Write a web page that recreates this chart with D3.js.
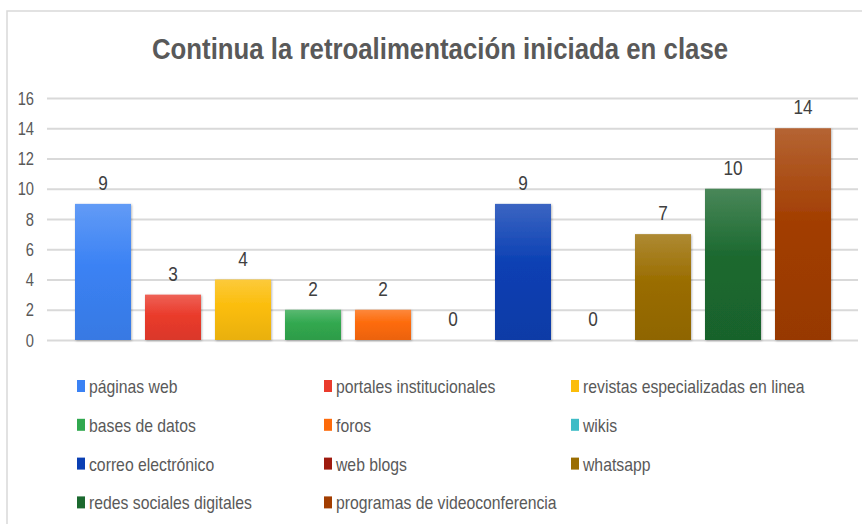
<!DOCTYPE html>
<html>
<head>
<meta charset="utf-8">
<script src="https://cdn.jsdelivr.net/npm/d3@7"></script>
<style>
  html, body { margin: 0; padding: 0; background: #fff; }
  svg { display: block; font-family: "Liberation Sans", Arial, sans-serif; }
</style>
</head>
<body>
<svg id="chart" width="862" height="524"></svg>
<script>
const title = "Continua la retroalimentación iniciada en clase";
const categories = ["páginas web", "portales institucionales", "revistas especializadas en linea",
  "bases de datos", "foros", "wikis", "correo electrónico", "web blogs", "whatsapp",
  "redes sociales digitales", "programas de videoconferencia"];
const values = [9, 3, 4, 2, 2, 0, 9, 0, 7, 10, 14];
const colors = ["#3b82f4", "#ea3b2c", "#fbbd0a", "#31a84f", "#fd6a0a", "#3fbcc6",
  "#0a3fb3", "#9e1a0e", "#9a6d00", "#1b692f", "#a23d00"];
const yTicks = [0, 2, 4, 6, 8, 10, 12, 14, 16];

const SX = 0.84; // horizontal text compression seen in the reference
const svg = d3.select("#chart");
const defs = svg.append("defs");

// border
svg.append("path").attr("d", "M7,530 L7,11 L870,11")
  .attr("fill", "none").attr("stroke", "#d9d9d9").attr("stroke-width", 1.5);

// title
svg.append("text").attr("transform", `translate(440,59) scale(0.86,1)`)
  .attr("text-anchor", "middle").attr("font-size", 30).attr("font-weight", "bold")
  .attr("fill", "#595959").text(title);

const x = d3.scaleBand().domain(categories).range([68, 838]).paddingInner(0.2).paddingOuter(0.1);
const y = d3.scaleLinear().domain([0, 16]).range([340, 98]);

// gridlines + y labels
const axis = d3.axisLeft(y).tickValues(yTicks).tickSize(-(858 - 47)).tickFormat(d3.format("d"));
const gAxis = svg.append("g").attr("transform", "translate(47,0)").call(axis);
gAxis.select(".domain").remove();
gAxis.selectAll(".tick line").attr("stroke", "#d9d9d9").attr("stroke-width", 1.8);
gAxis.selectAll(".tick text").attr("x", 0).attr("dy", "0.35em")
  .attr("transform", `translate(-13,0) scale(${SX},1)`)
  .attr("font-size", 17.5).attr("fill", "#595959").attr("font-family", "Liberation Sans, Arial, sans-serif");

// shadow filter
const f = defs.append("filter").attr("id", "shadow").attr("x", "-20%").attr("y", "-20%")
  .attr("width", "140%").attr("height", "140%");
f.append("feDropShadow").attr("dx", 0.8).attr("dy", 0.8).attr("stdDeviation", 1.2)
  .attr("flood-color", "#000").attr("flood-opacity", 0.3);

// gradients
colors.forEach((c, i) => {
  const g = defs.append("linearGradient").attr("id", "grad" + i)
    .attr("x1", 0).attr("y1", 0).attr("x2", 0).attr("y2", 1);
  g.append("stop").attr("offset", "0%").attr("stop-color", d3.interpolateRgb(c, "#ffffff")(0.2));
  g.append("stop").attr("offset", "45%").attr("stop-color", c);
  g.append("stop").attr("offset", "100%").attr("stop-color", d3.interpolateRgb(c, "#000000")(0.07));
});

const data = categories.map((c, i) => ({ c, v: values[i], i }));

svg.append("g").selectAll("rect").data(data.filter(d => d.v > 0)).join("rect")
  .attr("x", d => x(d.c)).attr("width", x.bandwidth())
  .attr("y", d => y(d.v)).attr("height", d => y(0) - y(d.v))
  .attr("fill", d => `url(#grad${d.i})`).attr("filter", "url(#shadow)");

svg.append("g").selectAll("text").data(data).join("text")
  .attr("transform", d => `translate(${x(d.c) + x.bandwidth() / 2},${y(d.v) - 14}) scale(${SX},1)`)
  .attr("text-anchor", "middle").attr("font-size", 20.5).attr("fill", "#404040")
  .text(d => d.v);

// legend
const legend = svg.append("g");
const items = legend.selectAll("g").data(data).join("g")
  .attr("transform", d => `translate(${77 + (d.i % 3) * 247},${386 + Math.floor(d.i / 3) * 38.8})`);
items.append("rect").attr("x", 0).attr("y", -6).attr("width", 8).attr("height", 12)
  .attr("fill", d => colors[d.i]);
items.append("text").attr("transform", `translate(12,7) scale(0.83,1)`)
  .attr("font-size", 19).attr("fill", "#595959").text(d => d.c);
</script>
</body>
</html>
